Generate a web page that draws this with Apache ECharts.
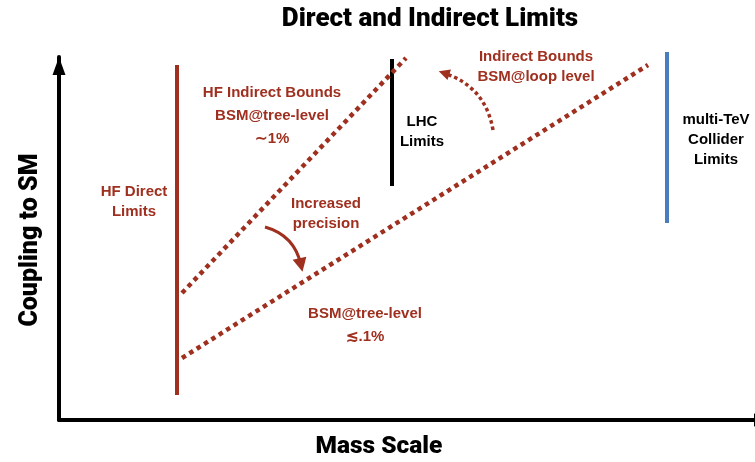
<!DOCTYPE html>
<html><head><meta charset="utf-8">
<script src="https://cdn.jsdelivr.net/npm/echarts@6/dist/echarts.min.js"></script>
<style>html,body{margin:0;padding:0;background:#fff}#c{width:755px;height:462px}</style>
</head><body><div id="c"></div>
<script>
// Schematic coordinates (mass scale, coupling), arbitrary units
const xRange = [0, 696];
const yRange = [0, 363];
const hfDirectLine = [[118, 25], [118, 355]];
const lhcLine = [[333, 234], [333, 361]];
const colliderLine = [[608, 197], [608, 368]];
const treeLevel1pct = [[123, 127], [347, 362]];
const treeLevel01pct = [[123, 62], [589, 355]];
const precisionArrow = [[206, 193], [242, 155]];
const loopArrow = [[434, 290], [385, 347]];
const redNotesWide = [
  [213, 304, 'HF Indirect Bounds\nBSM@tree-level\n∼1%'],
  [306, 95, 'BSM@tree-level\n≲.1%']
];
const redNotes = [
  [75, 218, 'HF Direct\nLimits'],
  [267, 206, 'Increased\nprecision'],
  [477, 353, 'Indirect Bounds\nBSM@loop level']
];
const blackNotes = [
  [363, 288, 'LHC\nLimits'],
  [657, 280, 'multi-TeV\nCollider\nLimits']
];
const titleText = 'Direct and Indirect Limits';
const xName = 'Mass Scale';
const yName = 'Coupling to SM';

const RED = '#9f2f1e';
const headFont = 'Roboto, "DejaVu Sans", sans-serif';
const bodyFont = '"Liberation Sans", Arial, sans-serif';

function seg(data, color, width, type) {
  return { type: 'line', data: data, symbol: 'none', clip: false, silent: true,
    lineStyle: { color: color, width: width, type: type || 'solid', cap: 'butt' } };
}
function notes(data, color, lh) {
  return { type: 'scatter', data: data, symbolSize: 1, clip: false, silent: true,
    itemStyle: { color: 'rgba(0,0,0,0)', opacity: 1 },
    label: { show: true, position: 'inside', formatter: p => p.data[2],
      color: color, opacity: 1, fontFamily: bodyFont, fontWeight: 'bold', fontSize: 15, lineHeight: lh, align: 'center',
      textBorderWidth: 0 } };
}
function arrow(pts, color, width, type, curv, size) {
  return { type: 'lines', coordinateSystem: 'cartesian2d', silent: true, clip: false,
    symbol: ['none', 'triangle'], symbolSize: size,
    lineStyle: { color: color, width: width, type: type, curveness: curv, opacity: 1 },
    data: [{ coords: pts }] };
}
function headText(text, x, y, size, rot) {
  return { type: 'text', x: x, y: y, rotation: rot || 0, silent: true,
    style: { text: text, fontFamily: headFont, fontWeight: 900, fontSize: size, fill: '#000',
      textAlign: 'center', textVerticalAlign: 'middle' } };
}

const chart = echarts.init(document.getElementById('c'));
chart.setOption({
  animation: false,
  graphic: [
    headText(titleText, 430, 19, 26),
    headText(xName, 379, 447, 24.5),
    headText(yName, 31, 240, 25, Math.PI / 2)
  ],
  grid: { left: 59, right: 0, top: 57, bottom: 42 },
  xAxis: { type: 'value', min: xRange[0], max: xRange[1],
    axisLine: { lineStyle: { color: '#000', width: 4 }, symbol: ['none', 'triangle'], symbolSize: [13, 18], symbolOffset: [0, 8] },
    axisTick: { show: false }, axisLabel: { show: false }, splitLine: { show: false } },
  yAxis: { type: 'value', min: yRange[0], max: yRange[1],
    axisLine: { show: true, lineStyle: { color: '#000', width: 4 }, symbol: ['none', 'triangle'], symbolSize: [13, 18], symbolOffset: [0, -9] },
    axisTick: { show: false }, axisLabel: { show: false }, splitLine: { show: false } },
  series: [
    seg(hfDirectLine, RED, 4),
    seg(lhcLine, '#000', 4),
    seg(colliderLine, '#4a7dbb', 4),
    seg(treeLevel1pct, RED, 4.5, [4.5, 4.2]),
    seg(treeLevel01pct, RED, 4.5, [4.5, 4.2]),
    arrow(precisionArrow, RED, 3, 'solid', 0.3, [12, 14]),
    arrow(loopArrow, RED, 3.5, [3.5, 3], -0.3, [11, 11]),
    notes(redNotesWide, RED, 23),
    notes(redNotes, RED, 20),
    notes(blackNotes, '#000', 20)
  ]
});
</script></body></html>
